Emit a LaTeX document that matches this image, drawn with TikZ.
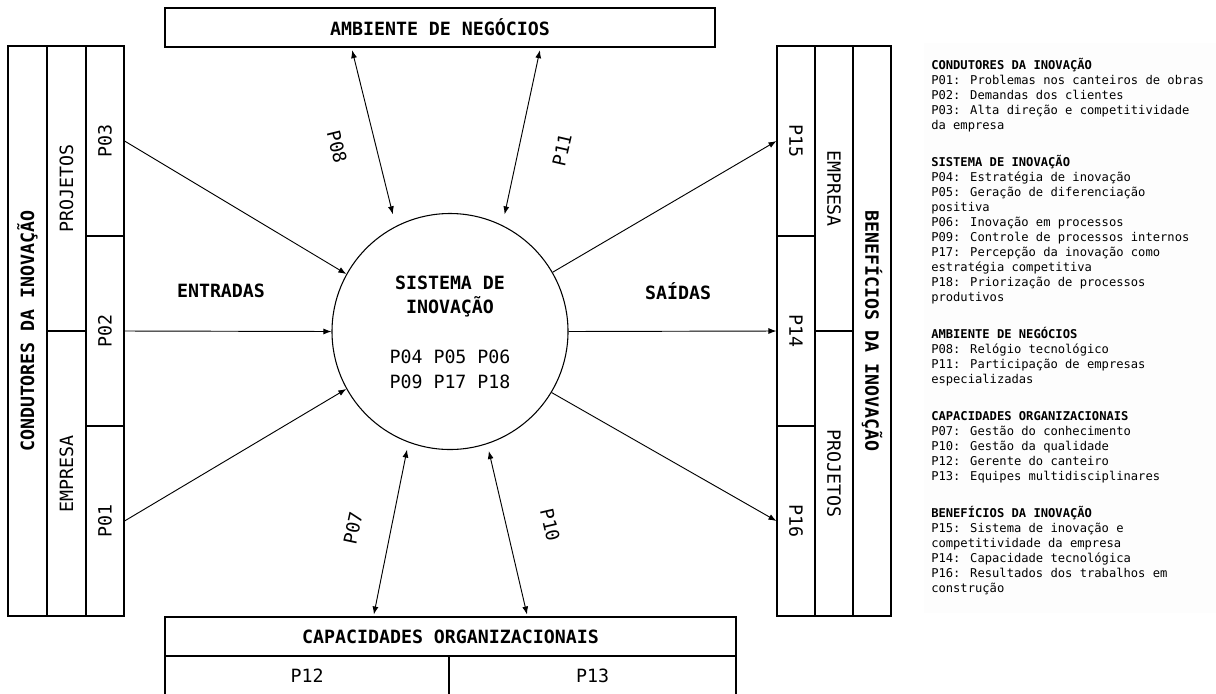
\documentclass[tikz,border=0pt]{standalone}
\usepackage{fontspec}
\setmainfont{DejaVu Sans Mono}
\setmonofont{DejaVu Sans Mono}
\usetikzlibrary{arrows.meta,calc}

\newcommand\diagfont{\fontsize{13.7}{17.5}\selectfont}
\newcommand\codefont{\fontsize{13.7}{18.6}\selectfont}
\newcommand\legfont{\fontsize{9.1}{11.25}\selectfont}

\begin{document}
\begin{tikzpicture}[x=0.75pt,y=-0.75pt,
  cell/.style args={#1 by #2}{draw,line width=0.8pt,inner sep=0pt,
    minimum width=#1*0.75pt,minimum height=#2*0.75pt,font=\diagfont},
  title/.style={font=\diagfont\bfseries},
  tip/.tip={Latex[length=6pt,width=4.5pt]},
  arr/.style={line width=0.7pt,-tip},
  dbl/.style={line width=0.7pt,tip-tip},
  lbl/.style={font=\diagfont,inner sep=1pt}]

\useasboundingbox (0,0) rectangle (1216,693);

% legend panel
\fill[black!0.8] (924,43) rectangle (1216,613);

% left block: innovation drivers
\node[cell={570 by 39},rotate=90,title] (cond) at (27.5,331) {CONDUTORES DA INOVAÇÃO};
\node[cell={285 by 39},rotate=90] (projL) at (66.5,188.5) {PROJETOS};
\node[cell={285 by 39},rotate=90] (empL) at (66.5,473.5) {EMPRESA};
\node[cell={190 by 38},rotate=90] (p03) at (105,141) {P03};
\node[cell={190 by 38},rotate=90] (p02) at (105,331) {P02};
\node[cell={190 by 38},rotate=90] (p01) at (105,521) {P01};

% right block: innovation benefits
\node[cell={190 by 38},rotate=-90] (p15) at (796,141) {P15};
\node[cell={190 by 38},rotate=-90] (p14) at (796,331) {P14};
\node[cell={190 by 38},rotate=-90] (p16) at (796,521) {P16};
\node[cell={285 by 38},rotate=-90] (empR) at (834,188.5) {EMPRESA};
\node[cell={285 by 38},rotate=-90] (projR) at (834,473.5) {PROJETOS};
\node[cell={570 by 38},rotate=-90,title] (benef) at (872,331) {BENEFÍCIOS DA INOVAÇÃO};

% business environment and organisational capabilities
\node[cell={550 by 39},title] (amb) at (440,27.5) {AMBIENTE DE NEGÓCIOS};
\node[cell={571 by 39},title] (cap) at (450.5,636.5) {CAPACIDADES ORGANIZACIONAIS};
\node[cell={284 by 39}] (p12) at (307,675.5) {P12};
\node[cell={287 by 39}] (p13) at (592.5,675.5) {P13};

% innovation system
\node[draw,circle,line width=0.8pt,inner sep=0pt,minimum size=236*0.75pt] (sis) at (450,331.5) {};
\node[title,align=center] (sistit) at (450,296.5) {SISTEMA DE\\INOVAÇÃO};
\node[font=\codefont,align=center] (siscodes) at (450,369.5) {P04 P05 P06\\P09 P17 P18};

\node[title] (entradas) at (221,291) {ENTRADAS};
\node[title] (saidas) at (678,291) {SAÍDAS};

% inputs and outputs
\draw[arr] (p03.south) -- (sis.151.5);
\draw[arr] (p02.south) -- (sis.west);
\draw[arr] (p01.south) -- (sis.209);
\draw[arr] (sis.30) -- (p15.south);
\draw[arr] (sis.east) -- (p14.south);
\draw[arr] (sis.-31) -- (p16.south);

% two-way links
\draw[dbl,shorten <=2pt] ($(amb.south west)+(187,0)$) -- ($(sis.center)!1.10!(sis.116.5)$);
\draw[dbl,shorten <=2pt] ($(amb.south west)+(376,0)$) -- ($(sis.center)!1.09!(sis.65.1)$);
\draw[dbl,shorten <=1.5pt] ($(cap.north west)+(209,0)$) -- ($(sis.center)!1.06!(sis.250.9)$);
\draw[dbl,shorten <=1.5pt] ($(cap.north west)+(363,0)$) -- ($(sis.center)!1.06!(sis.288.6)$);

\node[lbl,rotate=-76] (l08) at (337,147) {P08};
\node[lbl,rotate=77] (l11) at (562,150) {P11};
\node[lbl,rotate=78] (l07) at (353,528) {P07};
\node[lbl,rotate=-77] (l10) at (550,525) {P10};

% legend
\node[anchor=north west,inner sep=0pt,font=\legfont,align=left] (legend) at (931,58) {%
\textbf{CONDUTORES DA INOVAÇÃO}\\
P01: Problemas nos canteiros de obras\\
P02: Demandas dos clientes\\
P03: Alta direção e competitividade\\
da empresa\\[16.5pt]
\textbf{SISTEMA DE INOVAÇÃO}\\
P04: Estratégia de inovação\\
P05: Geração de diferenciação\\
positiva\\
P06: Inovação em processos\\
P09: Controle de processos internos\\
P17: Percepção da inovação como\\
estratégia competitiva\\
P18: Priorização de processos\\
produtivos\\[16.5pt]
\textbf{AMBIENTE DE NEGÓCIOS}\\
P08: Relógio tecnológico\\
P11: Participação de empresas\\
especializadas\\[16.5pt]
\textbf{CAPACIDADES ORGANIZACIONAIS}\\
P07: Gestão do conhecimento\\
P10: Gestão da qualidade\\
P12: Gerente do canteiro\\
P13: Equipes multidisciplinares\\[16.5pt]
\textbf{BENEFÍCIOS DA INOVAÇÃO}\\
P15: Sistema de inovação e\\
competitividade da empresa\\
P14: Capacidade tecnológica\\
P16: Resultados dos trabalhos em\\
construção};
\end{tikzpicture}
\end{document}
